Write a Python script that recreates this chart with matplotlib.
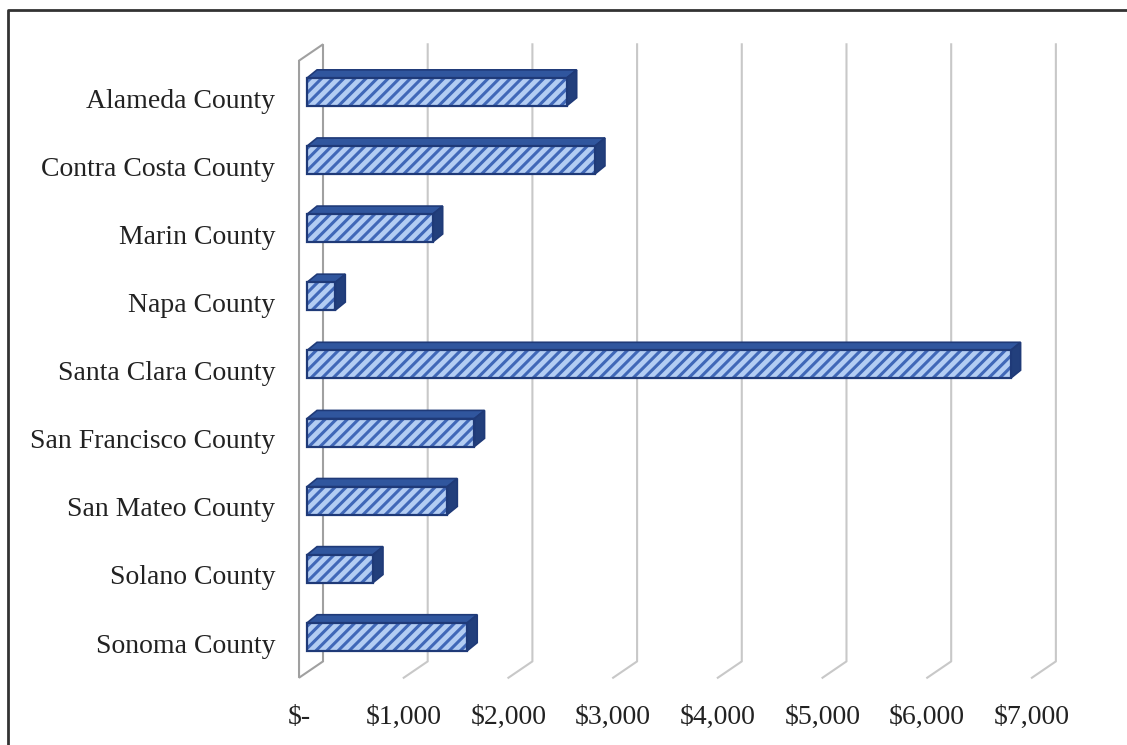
import matplotlib.pyplot as plt
from matplotlib.patches import Polygon, Rectangle
from matplotlib.lines import Line2D

counties = ["Alameda County", "Contra Costa County", "Marin County", "Napa County",
            "Santa Clara County", "San Francisco County", "San Mateo County",
            "Solano County", "Sonoma County"]
amounts = [2480, 2750, 1200, 270, 6720, 1600, 1340, 630, 1530]
ticks = [0, 1000, 2000, 3000, 4000, 5000, 6000, 7000]
tick_labels = ["$-", "$1,000", "$2,000", "$3,000", "$4,000", "$5,000", "$6,000", "$7,000"]

plt.rcParams['font.family'] = ['Liberation Serif', 'DejaVu Serif']

fig = plt.figure(figsize=(11.27, 7.45), dpi=100)
ax = fig.add_axes([285 / 1127, 55 / 745, 825 / 1127, 660 / 745])
ax.set_xlim(-134, 7746)
ax.set_ylim(8.78, -0.91)
for s in ax.spines.values():
    s.set_visible(False)

# depth of the 3d box (front -> back) in data units
wall_dx, wall_dy = 229, -0.24
floor_y = 8.6
top_y = -0.46
grid_col = "#c8c8c8"

# gridlines on back wall and their floor slant
for t in ticks[1:]:
    ax.add_line(Line2D([t + wall_dx, t + wall_dx, t], [top_y + wall_dy, floor_y + wall_dy, floor_y],
                       color=grid_col, lw=1.5, zorder=1))

# left wall
ax.add_patch(Polygon([(0, floor_y), (0, top_y), (wall_dx, top_y + wall_dy), (wall_dx, floor_y + wall_dy)],
                     closed=True, fill=False, edgecolor="#a0a0a0", lw=1.5, zorder=1))

# 3d bars
x0 = 76         # front face starts a bit inside the wall
bdx, bdy = 96, -0.12
h = 0.41
front_col = "#b3cdf3"
stripe_col = "#4068b8"
edge_col = "#1f3a78"
plt.rcParams['hatch.linewidth'] = 2.2
for i, v in enumerate(amounts):
    y_top = i - h / 2
    y_bot = i + h / 2
    x1 = x0 + v
    ax.add_patch(Polygon([(x0, y_top), (x1, y_top), (x1 + bdx, y_top + bdy), (x0 + bdx, y_top + bdy)],
                         closed=True, facecolor="#30569e", edgecolor=edge_col, lw=1.2, zorder=3))
    ax.add_patch(Polygon([(x1, y_top), (x1, y_bot), (x1 + bdx, y_bot + bdy), (x1 + bdx, y_top + bdy)],
                         closed=True, facecolor="#223f7c", edgecolor=edge_col, lw=1.2, zorder=3))
    ax.add_patch(Rectangle((x0, y_top), v, h, facecolor=front_col, edgecolor=stripe_col,
                           hatch="///", lw=0, zorder=4))
    ax.add_patch(Rectangle((x0, y_top), v, h, fill=False, edgecolor=edge_col, lw=1.6, zorder=5))

ax.set_xticks(ticks)
ax.set_xticklabels(tick_labels, fontsize=20, color="#222222")
ax.set_yticks([i + 0.09 for i in range(len(counties))])
ax.set_yticklabels(counties, fontsize=20, color="#222222")
ax.tick_params(axis="both", length=0)
ax.tick_params(axis="x", pad=11)
ax.tick_params(axis="y", pad=7)

# outer frame (top and left edges visible)
fig.add_artist(Line2D([8 / 1127, 8 / 1127, 1.0], [0.0, 1 - 10 / 745, 1 - 10 / 745],
                      transform=fig.transFigure, color="#333333", lw=2))

fig.savefig("out.png", dpi=100, facecolor="white")
